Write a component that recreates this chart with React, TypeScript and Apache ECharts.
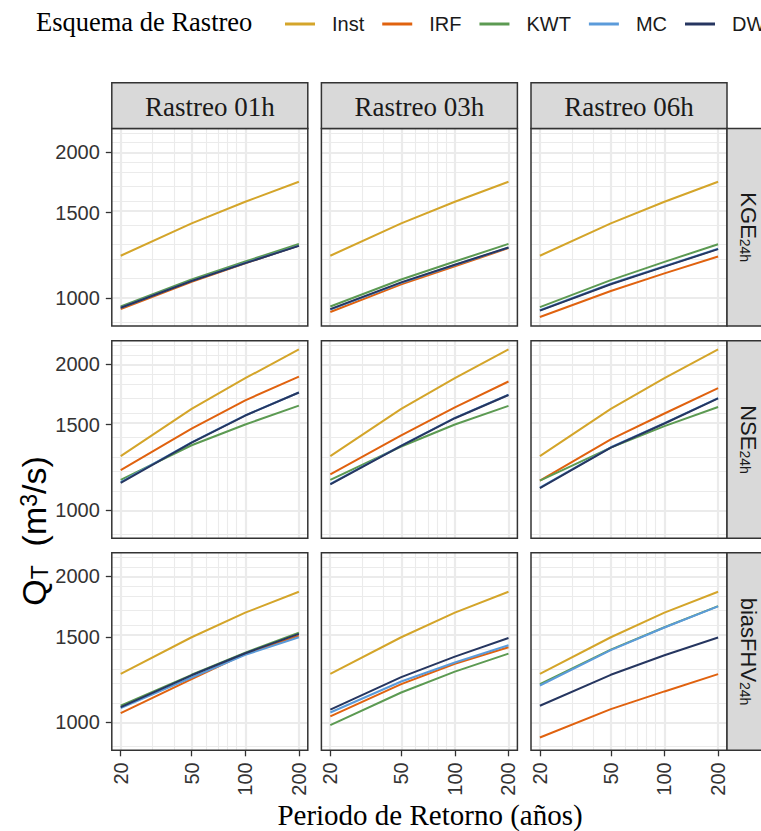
import React, { useEffect, useRef } from "react";
import * as echarts from "echarts";

// ---------- data ----------
const periods = [20, 50, 100, 200];
const schemes = ["Inst", "IRF", "KWT", "MC", "DW"];
const schemeColors = ["#D4A52A", "#E0620F", "#5C9A52", "#5B9BDA", "#263660"];
const rastreos = ["Rastreo 01h", "Rastreo 03h", "Rastreo 06h"];
const metricNames = ["KGE", "NSE", "biasFHV"];
const metricSub = "24h";

const xBreaks = [20, 50, 100, 200];
const xMinor = [30, 40, 60, 70, 80, 90];
const yBreaks = [1000, 1500, 2000];
const yMinor = [900, 1100, 1200, 1300, 1400, 1600, 1700, 1800, 1900, 2100, 2200];

// rows: Inst, IRF, KWT, MC, DW ; columns: T = 20, 50, 100, 200
const kge01h = [
  [1222, 1425, 1579, 1736],
  [949, 1080, 1179, 1283],
  [961, 1092, 1189, 1293],
  [955, 1085, 1181, 1282],
  [955, 1084, 1180, 1281],
];
const kge03h = [
  [1222, 1425, 1579, 1736],
  [936, 1067, 1163, 1267],
  [961, 1092, 1189, 1293],
  [947, 1075, 1170, 1270],
  [949, 1077, 1171, 1271],
];
const kge06h = [
  [1222, 1425, 1579, 1736],
  [914, 1034, 1124, 1218],
  [958, 1089, 1187, 1291],
  [944, 1070, 1163, 1263],
  [942, 1068, 1161, 1261],
];
const nse01h = [
  [1293, 1617, 1870, 2143],
  [1210, 1472, 1684, 1885],
  [1155, 1361, 1502, 1642],
  [1143, 1380, 1568, 1748],
  [1139, 1378, 1567, 1748],
];
const nse03h = [
  [1293, 1617, 1870, 2143],
  [1186, 1426, 1629, 1841],
  [1155, 1353, 1502, 1640],
  [1133, 1359, 1549, 1729],
  [1130, 1357, 1547, 1727],
];
const nse06h = [
  [1293, 1617, 1870, 2143],
  [1151, 1400, 1582, 1784],
  [1151, 1346, 1490, 1632],
  [1113, 1348, 1511, 1702],
  [1111, 1346, 1509, 1700],
];
const bias01h = [
  [1259, 1497, 1682, 1857],
  [1045, 1227, 1384, 1509],
  [1082, 1253, 1392, 1530],
  [1070, 1237, 1377, 1497],
  [1075, 1250, 1388, 1521],
];
const bias03h = [
  [1259, 1497, 1682, 1857],
  [1029, 1199, 1320, 1428],
  [987, 1152, 1272, 1385],
  [1048, 1214, 1328, 1441],
  [1062, 1239, 1366, 1492],
];
const bias06h = [
  [1259, 1497, 1682, 1857],
  [931, 1065, 1158, 1257],
  [1199, 1412, 1570, 1735],
  [1191, 1408, 1568, 1733],
  [1082, 1253, 1375, 1495],
];

const panels = [
  [kge01h, kge03h, kge06h],
  [nse01h, nse03h, nse06h],
  [bias01h, bias03h, bias06h],
];

// ---------- layout ----------
const SANS = "Liberation Sans";
const SERIF = "Liberation Serif";
const colLeft = [111.8, 321.4, 531];
const rowTop = [128.5, 340.7, 552.8];
const PW = 196;
const PH = 197.5;
const STRIP = 45.7;
const L = Math.log10;
const X_MIN = L(20) - 0.05;
const X_MAX = L(200) + 0.05;
const Y_MIN = 2.9425;
const Y_MAX = 3.3491;

function buildOption() {
  const grid: any[] = [];
  const xAxis: any[] = [];
  const yAxis: any[] = [];
  const series: any[] = [];
  const graphic: any[] = [];

  const gridLineData = [
    ...xMinor.map((v) => ({ xAxis: L(v), lineStyle: { color: "#EBEBEB", width: 1.1, type: "solid" } })),
    ...yMinor.map((v) => ({ yAxis: L(v), lineStyle: { color: "#EBEBEB", width: 1.1, type: "solid" } })),
    ...xBreaks.map((v) => ({ xAxis: L(v), lineStyle: { color: "#EBEBEB", width: 2.2, type: "solid" } })),
    ...yBreaks.map((v) => ({ yAxis: L(v), lineStyle: { color: "#EBEBEB", width: 2.2, type: "solid" } })),
  ];

  for (let r = 0; r < 3; r++) {
    for (let c = 0; c < 3; c++) {
      const i = r * 3 + c;
      grid.push({ left: colLeft[c], top: rowTop[r], width: PW, height: PH, show: false, outerBoundsMode: "none", containLabel: false });
      xAxis.push({
        type: "value",
        gridIndex: i,
        min: X_MIN,
        max: X_MAX,
        axisLine: { show: false },
        splitLine: { show: false },
        axisTick: { show: r === 2, customValues: xBreaks.map(L), length: 6, lineStyle: { color: "#333", width: 1.3 } },
        axisLabel: {
          show: r === 2,
          customValues: xBreaks.map(L),
          formatter: (v: number) => String(Math.round(Math.pow(10, v))),
          rotate: 90,
          margin: 12,
          fontSize: 20,
          fontFamily: SANS,
          color: "#333",
        },
      });
      yAxis.push({
        type: "value",
        gridIndex: i,
        min: Y_MIN,
        max: Y_MAX,
        axisLine: { show: false },
        splitLine: { show: false },
        axisTick: { show: c === 0, customValues: yBreaks.map(L), length: 6, lineStyle: { color: "#333", width: 1.3 } },
        axisLabel: {
          show: c === 0,
          customValues: yBreaks.map(L),
          formatter: (v: number) => String(Math.round(Math.pow(10, v))),
          margin: 12,
          fontSize: 20,
          fontFamily: SANS,
          color: "#333",
        },
      });
      const vals = panels[r][c];
      schemes.forEach((name, s) => {
        const ser: any = {
          type: "line",
          name,
          xAxisIndex: i,
          yAxisIndex: i,
          data: periods.map((p, k) => [L(p), L(vals[s][k])]),
          showSymbol: false,
          symbol: "none",
          lineStyle: { color: schemeColors[s], width: 2 },
          itemStyle: { color: schemeColors[s] },
          silent: true,
          z: 3,
          emphasis: { disabled: true },
        };
        if (s === 0) {
          ser.markLine = {
            silent: true,
            symbol: ["none", "none"],
            label: { show: false },
            emphasis: { disabled: true },
            animation: false,
            z: 1,
            data: gridLineData,
          };
        }
        series.push(ser);
      });

      // panel border
      graphic.push({
        type: "rect",
        z: 100,
        shape: { x: colLeft[c], y: rowTop[r], width: PW, height: PH },
        style: { fill: "none", stroke: "#333333", lineWidth: 1.5 },
        silent: true,
      });
    }
  }

  // top strips
  for (let c = 0; c < 3; c++) {
    graphic.push({
      type: "rect",
      z: 100,
      shape: { x: colLeft[c], y: rowTop[0] - STRIP, width: PW, height: STRIP },
      style: { fill: "#D9D9D9", stroke: "#333333", lineWidth: 1.5 },
    });
    graphic.push({
      type: "text",
      z: 101,
      x: colLeft[c] + PW / 2,
      y: rowTop[0] - STRIP / 2 + 1,
      style: { text: rastreos[c], fontSize: 27, fontFamily: SERIF, fill: "#1a1a1a", align: "center", verticalAlign: "middle" },
    });
  }
  // right strips
  for (let r = 0; r < 3; r++) {
    graphic.push({
      type: "rect",
      z: 100,
      shape: { x: colLeft[2] + PW, y: rowTop[r], width: STRIP, height: PH },
      style: { fill: "#D9D9D9", stroke: "#333333", lineWidth: 1.5 },
    });
    graphic.push({
      type: "text",
      z: 101,
      x: colLeft[2] + PW + STRIP / 2 - 1,
      y: rowTop[r] + PH / 2,
      rotation: -Math.PI / 2,
      style: {
        text: `{a|${metricNames[r]}}{b|${metricSub}}`,
        align: "center",
        verticalAlign: "middle",
        fill: "#1a1a1a",
        rich: {
          a: { fontSize: 22, fontFamily: SANS, lineHeight: 22, fill: "#1a1a1a" },
          b: { fontSize: 14, fontFamily: SANS, lineHeight: 4, verticalAlign: "bottom", fill: "#1a1a1a" },
        },
      },
    });
  }
  // legend title
  graphic.push({
    type: "text",
    x: 36,
    y: 22,
    style: { text: "Esquema de Rastreo", fontSize: 26.5, fontFamily: SERIF, fill: "#000", align: "left", verticalAlign: "middle" },
  });
  // x axis title
  graphic.push({
    type: "text",
    x: 430,
    y: 815,
    style: { text: "Periodo de Retorno (años)", fontSize: 29, fontFamily: SERIF, fill: "#000", align: "center", verticalAlign: "middle" },
  });
  // y axis title
  graphic.push({
    type: "text",
    x: 34,
    y: 531,
    rotation: Math.PI / 2,
    style: {
      text: "{a|Q}{b|T}{a|  (m}{c|3}{a|/s)}",
      align: "center",
      verticalAlign: "middle",
      fill: "#000",
      rich: {
        a: { fontSize: 34, fontFamily: SANS, lineHeight: 34, fill: "#000" },
        b: { fontSize: 23, fontFamily: SANS, lineHeight: 4, verticalAlign: "bottom", fill: "#000" },
        c: { fontSize: 23, fontFamily: SANS, lineHeight: 4, verticalAlign: "top", fill: "#000" },
      },
    },
  });

  return {
    animation: false,
    backgroundColor: "#ffffff",
    legend: {
      data: schemes,
      left: 280,
      top: 9,
      width: 600,
      orient: "horizontal",
      icon: "rect",
      itemWidth: 30,
      itemHeight: 3,
      itemGap: 18,
      selectedMode: false,
      textStyle: { fontSize: 20, fontFamily: SANS, color: "#1a1a1a", padding: [0, 0, 0, 12] },
    },
    grid,
    xAxis,
    yAxis,
    series,
    graphic,
  };
}

export default function App() {
  const ref = useRef<HTMLDivElement>(null);
  useEffect(() => {
    if (!ref.current) return;
    const chart = echarts.init(ref.current, null, { renderer: "svg" });
    chart.setOption(buildOption() as any);
    return () => chart.dispose();
  }, []);
  return (
    <div
      ref={ref}
      style={{ position: "absolute", left: 0, top: 0, width: 761, height: 831, background: "#fff" }}
    />
  );
}
